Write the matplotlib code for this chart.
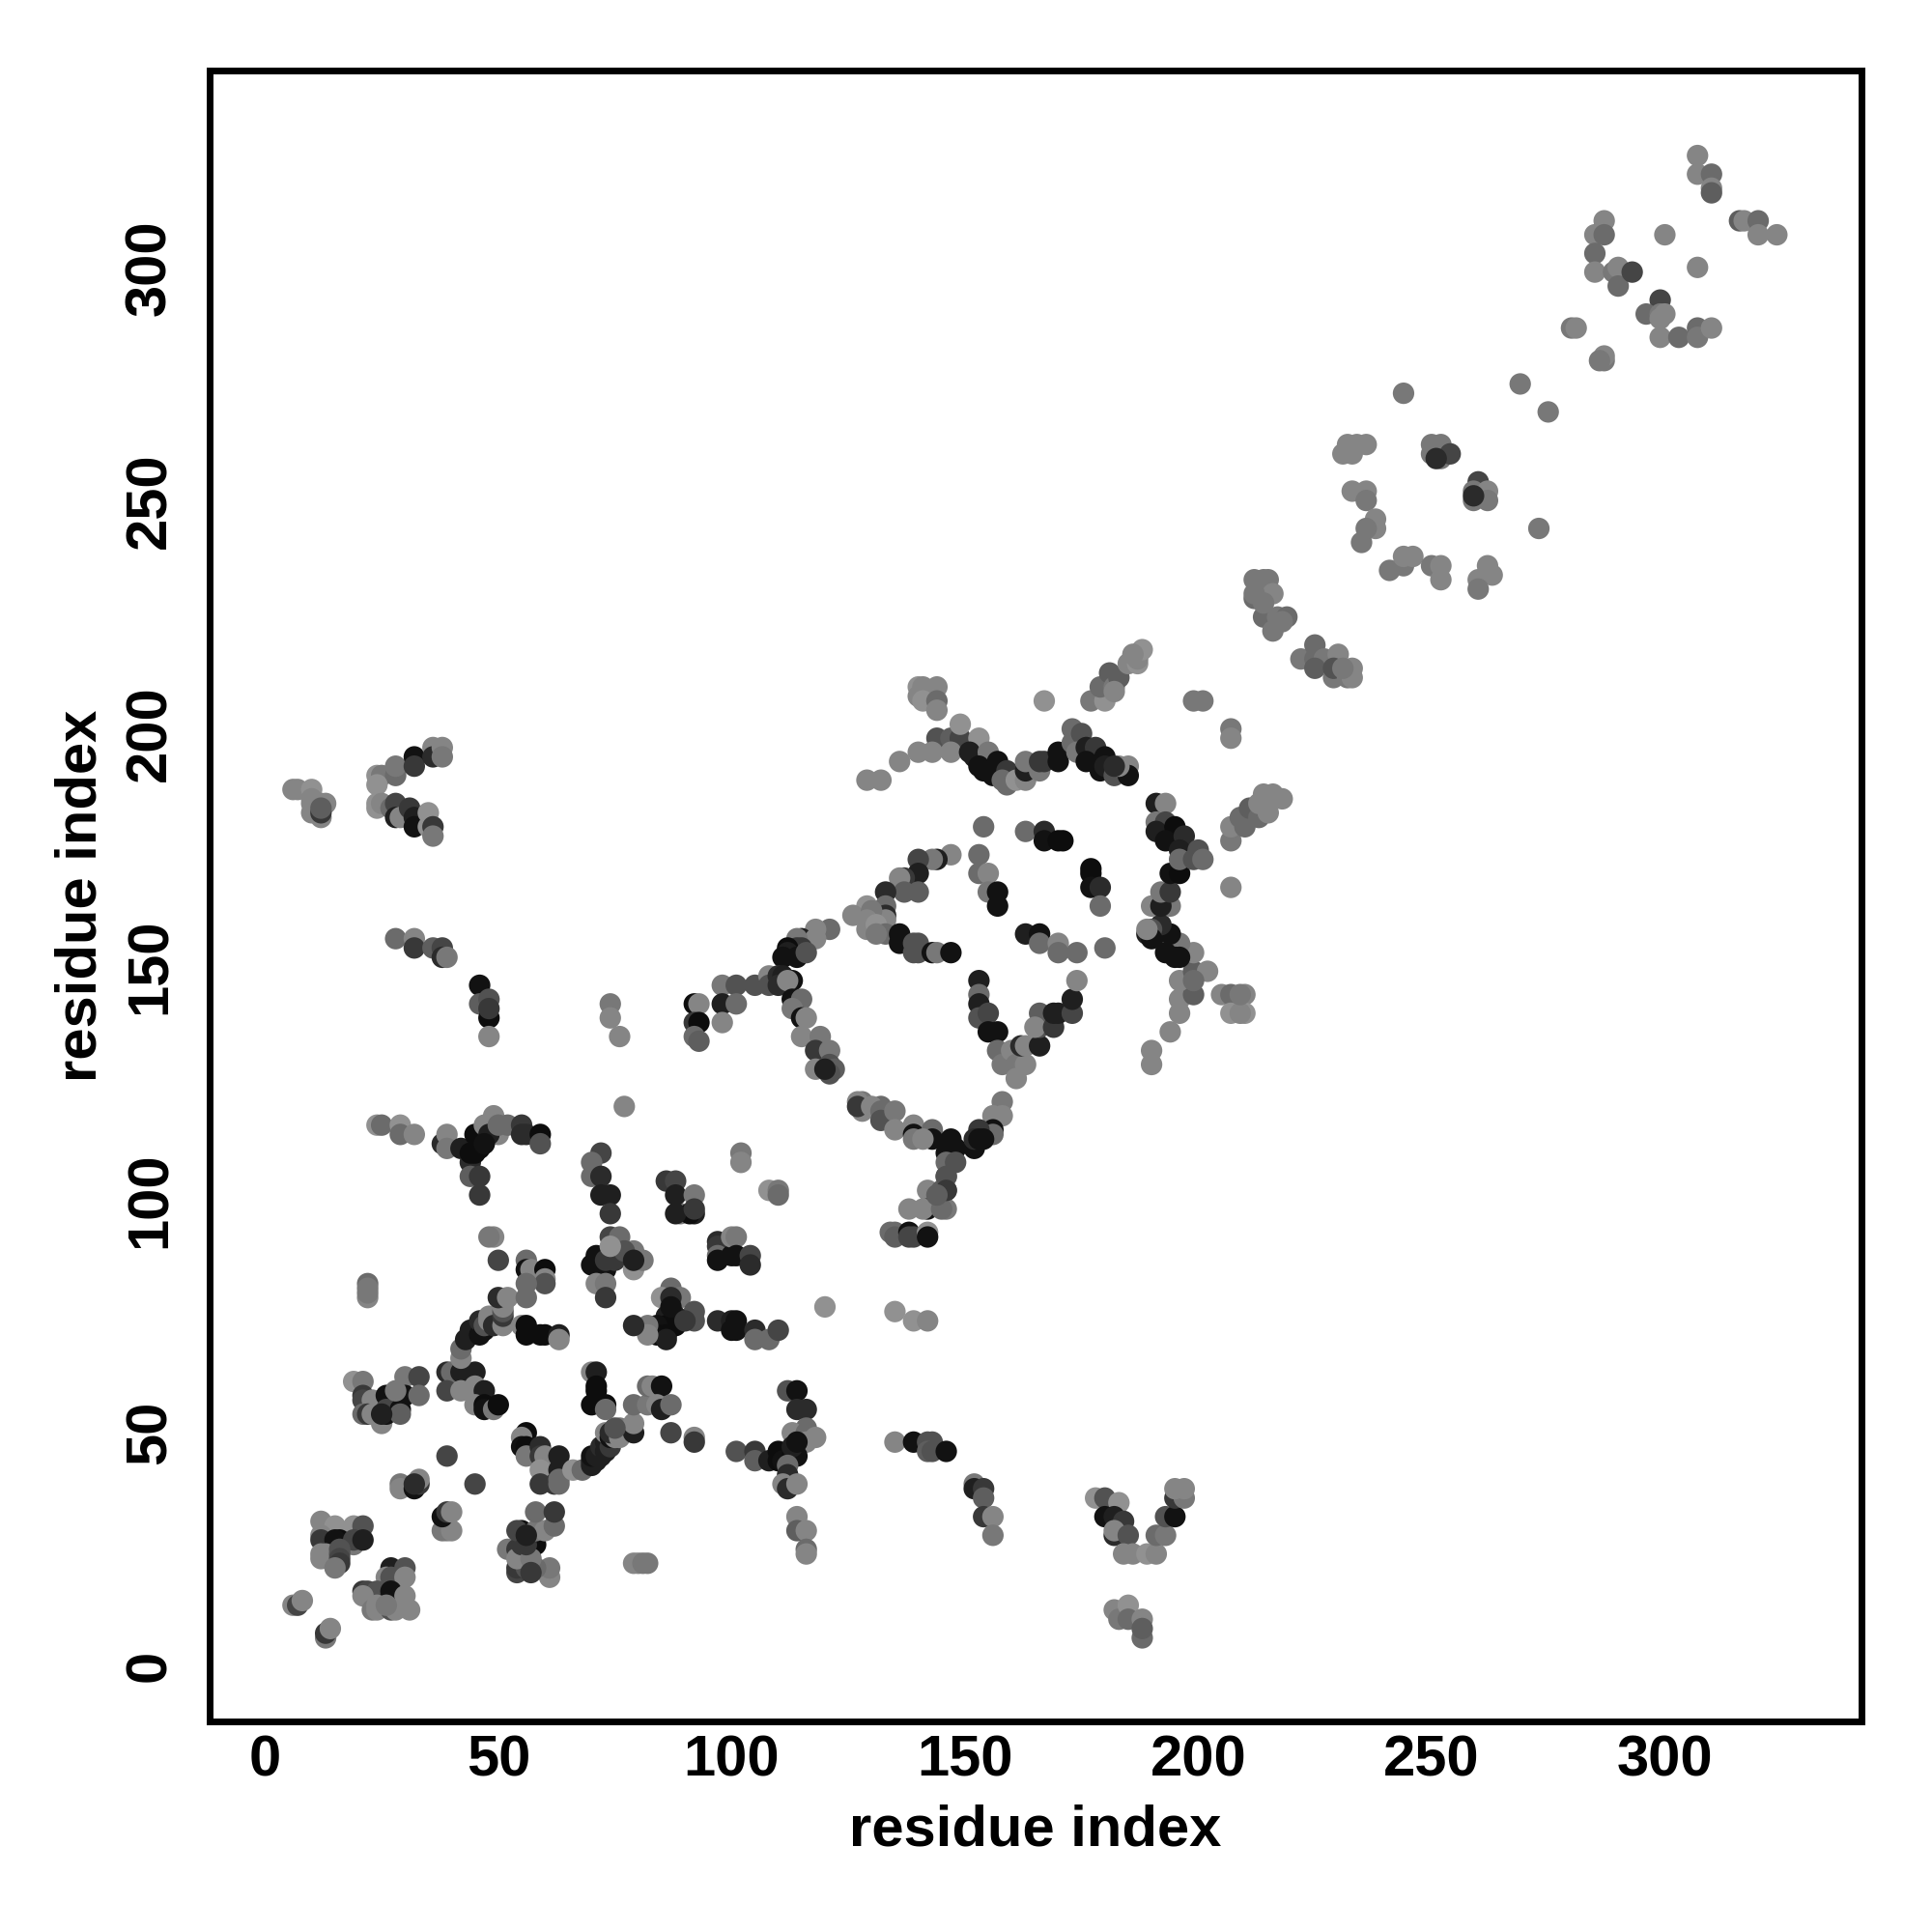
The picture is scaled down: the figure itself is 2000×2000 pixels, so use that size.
import matplotlib
matplotlib.use("Agg")
import matplotlib.pyplot as plt

# contacts: (residue i, residue j, gray shade)
low_corner = [(13,6,.45),(13,7,.2),(14,8,.5),(6,13,.5),(7,13,.25),(8,14,.5),(12,31,.5),(15,30,.55),(19,30,.55),(21,30,.3),
(12,28,.5),(12,27,.2),(16,27,.03),(15,27,.05),(19,26,.45),(19,27,.25),(21,27,.1),(12,24,.5),(12,23,.5),(13,24,.5),(16,25,.3),(16,24,.3),(16,23,.25),(16,22,.2),(15,21,.45),
(27,21,.1),(30,21,.3),(26,19,.5),(27,19,.3),(30,19,.5),(21,16,.2),(22,16,.25),(24,16,.3),(27,16,.05),(21,15,.5),(27,15,.05),(30,15,.5),(23,12,.45),(24,12,.5),(27,12,.3),(28,12,.5),(31,12,.5),(24,13,.5),(26,13,.45),
(39,29,.5),(38,29,.45),(40,29,.5),(38,32,.05),(39,33,.2),(40,33,.5),(29,39,.45),(29,38,.5),(32,38,.05),(33,39,.2),(33,40,.5),(32,39,.15),(39,45,.25),(45,39,.25),
(61,19,.5),(61,21,.45),(54,20,.25),(54,21,.2),(56,21,.3),(58,21,.4),(52,25,.45),(54,25,.2),(54,23,.5),(55,26,.2),(55,29,.05),(54,29,.25),(58,26,.03),(57,23,.45),(56,26,.2),(58,29,.45),(60,29,.5),(62,30,.4),(58,33,.4),(62,33,.2),(56,28,.1),(57,20,.2),
(79,22,.5),(80,22,.5),(81,22,.45),(82,22,.45)]

low_mid = [(56,50,.03),(55,49,.5),(55,47,.05),(56,47,.03),(56,45,.45),(59,47,.15),(59,45,.2),(60,45,.5),(59,42,.55),(63,45,.1),(63,42,.1),(59,39,.2),(62,39,.2),(63,39,.4),(63,40,.4),
(66,42,.55),(68,42,.4),(70,43,.1),(70,44,.1),(71,44,.1),(70,45,.05),(71,45,.1),(72,45,.1),(72,47,.15),(73,46,.1),(73,48,.1),(74,47,.2),(73,50,.5),(74,49,.05),(75,49,.5),(74,50,.15),(76,51,.45),(76,49,.5),(79,50,.1),(79,52,.5),(75,51,.3),
(87,50,.25),(92,49,.5),(92,48,.2),(101,46,.3),(79,56,.4),(82,56,.45),(82,60,.4),(83,60,.5),(85,60,.05),(84,56,.5),(85,55,.1),(87,56,.4),
(70,63,.5),(71,63,.1),(71,60,.03),(71,59,.03),(70,56,.03),(73,56,.03),(73,55,.4),
(39,63,.15),(40,63,.4),(42,63,.1),(45,63,.1),(39,59,.25),(42,59,.5),(45,60,.5),(47,59,.1),(45,56,.5),(47,56,.03),(47,55,.05),(49,55,.45),(50,56,.03),
(19,61,.55),(21,61,.45),(21,58,.2),(21,57,.25),(23,57,.5),(21,54,.4),(22,54,.2),(23,54,.5),(25,52,.5),(26,58,.05),(26,54,.05),(26,55,.25),(30,62,.45),(33,62,.25),(30,58,.05),(33,58,.4),(29,55,.05),(29,54,.35),(25,54,.1),(28,59,.45),
(22,79,.5),(22,80,.45),(22,82,.4),(22,81,.45)]

arc_70s = [(42,66,.5),(42,68,.4),(43,70,.1),(44,71,.1),(44,72,.1),(45,72,.1),(46,71,.05),(46,74,.15),(47,72,.05),(47,73,.3),(48,74,.5),(48,75,.5),(49,73,.15),(51,73,.5),(51,75,.2),(51,76,.3),(51,77,.5),(50,79,.15),(52,79,.5),(55,73,.5),(56,73,.03),(56,71,.03),(59,71,.03),(60,71,.03),(63,71,.1),(63,70,.5),
(56,87,.4),(56,85,.05),(57,85,.5),(60,85,.03),(60,83,.5),(60,82,.3),(56,82,.4),(56,79,.4),(50,87,.25),(49,92,.5),(48,92,.45),
(74,92,.25),(76,92,.4),(70,86,.05),(71,86,.05),(71,88,.05),(73,85,.05),(73,87,.2),(75,87,.2),(79,89,.45),(79,85,.55),(81,87,.45),(77,89,.3),(71,82,.5),(73,82,.45),(73,79,.2),(79,87,.1),(74,90,.55),
(87,81,.4),(85,79,.55),(89,79,.45),(87,79,.15),(92,76,.3),(92,74,.3),(86,75,.1),(88,75,.1),(86,73,.03),(88,73,.03),(84,73,.05),(86,71,.03),(84,71,.03),(86,70,.1),(82,73,.45),(82,71,.5),(79,73,.15),(97,74,.15),(87,77,.05),(90,74,.2),(100,74,.1),(100,72,.05),
(89,97,.45),(92,97,.1),(91,97,.03),(97,91,.15),(97,90,.2),(97,88,.4),(97,87,.05),(100,88,.05),(100,92,.5)]

low_right = [(102,110,.45),(102,108,.5),(108,102,.55),(110,102,.45),(110,101,.4),(101,92,.45),(101,88,.05),(104,88,.25),(104,86,.15),(120,77,.55),(135,76,.55),(139,74,.55),(142,74,.5),
(101,74,.05),(101,72,.05),(105,72,.15),(105,70,.4),(108,70,.4),(110,72,.25),
(112,59,.3),(114,59,.05),(114,55,.15),(116,55,.15),(116,51,.4),(113,50,.5),(116,50,.4),(118,49,.5),(116,48,.5),(105,46,.2),(105,44,.35),(108,44,.1),(110,46,.03),(110,44,.03),(111,44,.05),(113,45,.03),(114,45,.05),(113,47,.1),(112,43,.4),(112,41,.15),(111,39,.5),(112,38,.15),(114,39,.5),(114,48,.05),
(114,32,.5),(114,29,.35),(116,29,.5),(116,25,.4),(116,24,.5),(135,48,.5),(139,48,.05),(142,48,.3),(143,48,.3),(142,46,.35),(143,46,.3),(146,46,.05),
(152,39,.45),(152,38,.1),(154,38,.2),(154,36,.35),(154,32,.2),(156,32,.5),(156,28,.45),
(178,36,.55),(180,36,.3),(183,35,.55),(180,32,.05),(182,32,.1),(184,31,.2),(182,28,.15),(182,29,.5),(185,28,.3),(184,24,.5),(186,24,.5),(189,24,.55),(191,24,.5),(191,28,.4),(193,28,.45),(193,32,.3),(195,32,.05),(195,36,.2),(197,36,.45),(195,38,.5),(197,38,.5),
(182,12,.5),(183,10,.45),(185,13,.55),(185,10,.4),(188,10,.5),(188,6,.4),(188,8,.35),
(142,102,.5),(146,105,.3),(146,102,.2),(145,102,.35),(138,98,.5),(142,98,.05),(141,98,.5),(146,98,.45),(145,98,.4),
(134,93,.4),(135,93,.4),(135,92,.35),(138,93,.05),(138,92,.25),(139,92,.25),(142,93,.55),(142,92,.05)]

upper_left = [(6,188,.5),(7,188,.5),(10,188,.55),(10,186,.5),(10,185,.5),(10,183,.5),(12,185,.5),(13,185,.5),(12,182,.5),(12,183,.2),(12,184,.35),
(24,191,.55),(25,191,.45),(28,191,.4),(28,193,.45),(24,189,.55),(24,185,.55),(24,184,.55),(25,185,.5),(27,184,.4),(28,185,.25),(28,182,.1),(29,182,.5),(31,184,.2),(32,182,.1),(32,180,.05),(32,195,.05),(32,193,.2),(35,183,.55),(35,180,.55),(36,180,.2),(36,178,.45),(36,197,.5),(36,195,.15),(38,197,.5),(38,195,.45),
(28,156,.4),(32,156,.5),(32,154,.2),(36,154,.35),(38,154,.25),(38,152,.15),(39,152,.45),
(46,146,.05),(46,142,.35),(48,143,.3),(48,139,.03),(48,135,.5),(48,141,.2),(74,142,.45),(74,139,.5),(76,135,.5),
(92,142,.03),(93,142,.5),(92,138,.2),(93,138,.03),(92,135,.4),(93,134,.35),(98,146,.45),(98,142,.1),(98,138,.5),(101,146,.3),(101,142,.4),(77,120,.5),
(24,116,.55),(25,116,.4),(29,116,.55),(29,114,.4),(32,114,.5),(38,112,.15),(39,114,.5),(39,111,.45),(42,111,.1),(44,108,.15),(45,110,.03),(46,111,.03),(44,110,.03),(45,114,.03),(47,116,.5),(49,118,.5),(50,114,.5),(48,114,.1),(50,116,.4),(52,116,.4),(55,116,.2),(55,114,.15),(56,114,.15),(59,114,.03),(59,112,.3),(47,112,.05),(44,105,.35),(46,105,.2),(46,101,.2),
(72,110,.25),(70,108,.4),(70,105,.4),(72,105,.15),(72,101,.1),(74,101,.1),(74,97,.2),(86,104,.2),(88,104,.25),(88,101,.1),(92,101,.45),(88,97,.1),(92,98,.2)]

center_top = [(140,210,.55),(141,210,.5),(144,210,.5),(140,208,.5),(141,207,.55),(144,207,.4),(144,205,.5),(144,199,.3),(147,199,.35),(149,199,.25),(149,202,.55),(129,190,.5),(132,190,.5),(136,194,.5),(140,196,.5),(143,196,.5),(147,196,.5),
(153,199,.55),(151,196,.1),(152,195,.1),(155,196,.45),(153,193,.05),(154,192,.05),(157,194,.05),(156,191,.05),(159,192,.2),(158,190,.4),(159,189,.4),(161,190,.55),(163,190,.5),(163,192,.1),(163,194,.45),(166,192,.45),(166,194,.2),(167,194,.2),(170,196,.05),(170,194,.05),
(173,201,.4),(173,198,.4),(175,200,.3),(174,196,.45),(176,197,.1),(178,197,.2),(176,194,.05),(180,195,.05),(179,192,.05),(180,193,.1),(182,191,.3),(185,193,.5),(185,191,.05),(183,193,.5),(182,193,.15),
(167,207,.55),(177,207,.45),(180,207,.55),(179,210,.4),(181,213,.35),(182,210,.45),(183,212,.35),(185,215,.5),(187,215,.55),(187,216,.5),(182,209,.5),(188,218,.55),(186,217,.5),
(199,207,.45),(201,207,.45),(207,201,.45),(207,199,.5)]

center_mid = [(154,180,.4),(163,179,.4),(167,179,.15),(167,177,.05),(170,177,.03),(171,177,.03),(177,171,.03),(177,170,.03),(177,167,.05),(179,167,.15),(179,163,.4),(180,154,.4),
(153,174,.4),(153,170,.4),(155,170,.5),(155,166,.45),(157,166,.05),(157,163,.05),(147,174,.5),(144,173,.1),(143,173,.45),(140,173,.25),(140,170,.1),(137,169,.2),(136,169,.5),(137,166,.35),(140,166,.35),(133,166,.15),(133,163,.4),(133,161,.15),(133,160,.5),(129,163,.55),(126,161,.5),(130,162,.45),(129,160,.5),(129,158,.5),(131,159,.55),(133,157,.4),(131,157,.45),
(136,157,.05),(136,155,.05),(139,155,.3),(140,155,.3),(139,153,.3),(140,153,.3),(143,153,.05),(144,153,.45),(147,153,.05),(163,157,.1),(166,157,.05),(166,155,.4),(170,155,.5),(170,153,.4),(174,153,.4),
(121,158,.4),(118,158,.5),(115,156,.1),(118,156,.5),(114,156,.45),(114,154,.2),(115,154,.2),(112,154,.03),(112,153,.1),(111,152,.05),(114,152,.05),(116,153,.3),
(105,146,.3),(108,148,.5),(108,146,.3),(110,148,.15),(111,148,.1),(110,146,.15),(113,147,.05),(112,147,.5),(113,143,.05),(115,143,.4),(113,141,.45),(115,139,.05),(116,139,.5),(115,135,.5),(119,135,.45),(118,132,.2),(121,132,.45),(118,128,.5),(121,129,.3),(122,128,.35),(121,127,.3),(120,128,.1)]

center_low = [(153,147,.1),(153,144,.4),(153,142,.1),(153,139,.3),(155,140,.25),(155,136,.05),(157,136,.05),(157,132,.4),(158,129,.45),(160,132,.5),(161,129,.45),(163,129,.5),(161,126,.5),(162,133,.15),(163,133,.5),(166,133,.1),(166,137,.3),(166,140,.35),(165,137,.5),(169,137,.2),(169,140,.1),(170,140,.1),(173,140,.25),(173,143,.1),(174,147,.5),
(128,121,.45),(127,121,.5),(128,119,.5),(127,120,.2),(132,120,.4),(130,120,.5),(132,119,.4),(132,117,.3),(135,119,.45),(135,115,.5),(139,116,.5),(139,114,.05),(139,113,.45),(143,115,.4),(143,113,.05),(141,113,.5),(147,113,.05),(148,111,.05),(146,110,.05),(146,108,.4),(148,108,.3),(146,105,.3),(146,102,.2),(144,101,.35),
(158,121,.45),(158,118,.5),(156,118,.5),(156,115,.05),(156,114,.4),(153,115,.2),(152,111,.05),(154,113,.05),(152,113,.15),(153,113,.05)]

right_arm = [(190,132,.5),(190,129,.5),(194,136,.5),(196,140,.5),(196,143,.5),(199,144,.35),(196,147,.5),(199,149,.35),(202,149,.5),(199,147,.4),(205,144,.5),(207,144,.4),(210,144,.5),(207,140,.55),(210,140,.55),(209,140,.5),(209,144,.45),
(199,153,.5),(196,155,.45),(194,157,.05),(191,157,.05),(192,159,.15),(190,158,.3),(189,157,.1),(190,156,.05),(193,153,.05),(195,152,.05),(189,158,.5),(196,152,.05),(190,163,.5),(194,163,.45),(192,163,.1),(192,166,.45),(194,166,.2),(194,170,.05),(196,170,.03),
(191,185,.1),(193,185,.5),(191,181,.45),(193,181,.25),(191,179,.1),(195,180,.03),(193,177,.05),(197,178,.15),(196,175,.1),(200,175,.3),(196,173,.4),(199,173,.3),(201,173,.4),
(207,177,.45),(207,180,.5),(209,182,.4),(210,180,.4),(211,184,.35),(213,182,.4),(213,185,.5),(215,183,.5),(214,187,.5),(216,187,.5),(218,186,.5),(207,167,.5)]

far_diagonal = [(307,324,.5),(307,320,.5),(310,320,.4),(310,317,.5),(310,316,.35),(316,310,.35),(317,310,.5),(320,310,.4),(320,307,.5),(324,307,.5),(287,310,.5),(285,307,.5),(287,307,.4),(300,307,.5),
(285,303,.4),(285,299,.5),(289,299,.45),(290,300,.5),(290,296,.4),(293,299,.25),(307,300,.5),(299,293,.25),(296,290,.4),(299,290,.45),(300,290,.5),(299,289,.5),(299,285,.5),(303,285,.4),(307,287,.4),(307,285,.45),(310,287,.5),
(280,287,.45),(281,287,.5),(287,280,.45),(287,281,.5),(286,280,.45),(244,273,.45),(269,275,.45),(275,269,.45),
(231,260,.5),(233,260,.5),(234,262,.5),(236,262,.5),(232,262,.5),(250,262,.45),(252,262,.45),(250,260,.45),(252,259,.45),(254,260,.25),(251,259,.15),
(260,254,.25),(259,252,.45),(259,250,.45),(262,252,.5),(262,250,.45),(259,251,.15),(233,252,.5),(236,252,.5),(236,250,.45),(238,246,.5),(238,244,.5),(236,244,.45),(235,241,.45),
(241,235,.45),(244,236,.45),(244,238,.5),(246,238,.5),(250,236,.45),(252,236,.5),(252,233,.5),(262,236,.5),(263,234,.5),(260,233,.5),(260,231,.45),(273,244,.45),
(212,233,.45),(214,233,.45),(215,233,.45),(212,229,.4),(216,230,.5),(212,230,.45),(214,225,.4),(217,225,.45),(219,225,.4),(216,222,.45),(218,224,.45),(214,228,.45),
(222,216,.45),(225,219,.4),(225,216,.4),(227,216,.45),(225,214,.35),(229,212,.45),(230,217,.5),(229,214,.3),(232,212,.45),(233,214,.5),(233,212,.5),(231,214,.45)]

x_ticks = [0, 50, 100, 150, 200, 250, 300]
y_ticks = [0, 50, 100, 150, 200, 250, 300]
x_label = "residue index"
y_label = "residue index"

regions = [low_corner, low_mid, arc_70s, low_right, upper_left, center_top, center_mid, center_low, right_arm, far_diagonal]
contacts = [c for r in regions for c in r]
xs = [c[0] for c in contacts]
ys = [c[1] for c in contacts]
shades = [str(min(c[2] + 0.02, 1)) for c in contacts]

plt.rcParams["font.family"] = ["Liberation Sans", "DejaVu Sans"]
plt.rcParams["font.weight"] = "bold"
fig = plt.figure(figsize=(10, 10), dpi=200, facecolor="white")
ax = fig.add_axes([170/1568, 1-1397/1568, (1511-170)/1568, (1397-57)/1568])
ax.scatter(xs, ys, s=64, c=shades, linewidths=0, zorder=3)
ax.set_xlim(-11.9, 342.2)
ax.set_ylim(-11.9, 342.3)
ax.set_xticks(x_ticks)
ax.set_yticks(y_ticks)
ax.tick_params(axis="x", length=0, labelsize=21.5, pad=5)
ax.tick_params(axis="y", length=0, labelsize=21.5, pad=12)
for t in ax.get_yticklabels():
    t.set_rotation(90)
    t.set_va("center")
for s in ax.spines.values():
    s.set_linewidth(2.5)
ax.set_xlabel(x_label, fontsize=21.5, fontweight="bold", labelpad=6)
ax.set_ylabel(y_label, fontsize=21.5, fontweight="bold", labelpad=6)
fig.savefig("out.png", dpi=200, facecolor="white")
